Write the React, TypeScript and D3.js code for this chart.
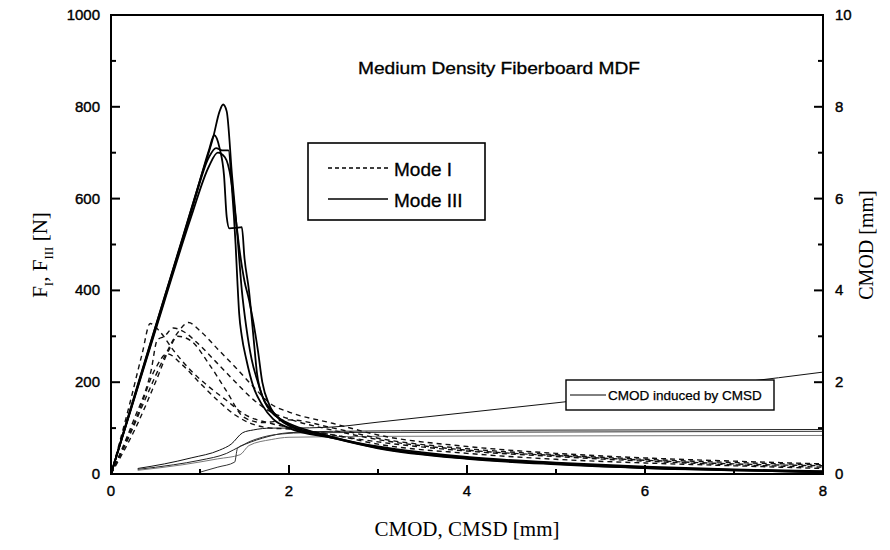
import React from "react";
import * as d3 from "d3";

type P = [number, number];

// Mode III (solid, thick) force curves: [CMSD mm, N]
const modeIII_A: P[] = [[0,0],[0.2,130],[0.4,258],[0.6,385],[0.8,512],[1.0,640],[1.15,735],[1.22,790],[1.26,805],[1.3,790],[1.36,650],[1.42,520],[1.47,400],[1.52,320],[1.58,250],[1.65,200],[1.72,160],[1.8,135],[1.9,120],[2.0,110],[2.3,90],[2.6,75],[3.0,60],[3.5,47],[4.0,37],[5,25],[6,16],[7,10],[8,6]];
const modeIII_B: P[] = [[0,0],[0.2,128],[0.5,320],[0.8,510],[1.0,640],[1.1,705],[1.16,738],[1.22,710],[1.27,650],[1.3,560],[1.33,535],[1.4,536],[1.47,538],[1.5,470],[1.55,400],[1.6,300],[1.64,220],[1.7,170],[1.8,140],[1.9,120],[2.0,108],[2.5,80],[3,58],[4,35],[5,23],[6,14],[7,9],[8,5]];
const modeIII_C: P[] = [[0,0],[0.3,190],[0.6,380],[0.9,570],[1.1,690],[1.18,710],[1.25,705],[1.32,705],[1.36,620],[1.4,500],[1.42,420],[1.44,350],[1.47,300],[1.52,250],[1.6,190],[1.7,150],[1.82,120],[2.0,100],[2.5,78],[3,57],[4,34],[5,22],[6,13],[7,8],[8,4]];
const modeIII_D: P[] = [[0,0],[0.3,188],[0.6,376],[0.9,560],[1.1,670],[1.2,700],[1.28,690],[1.35,640],[1.4,560],[1.45,480],[1.5,420],[1.55,380],[1.6,330],[1.65,270],[1.7,200],[1.78,150],[1.9,118],[2.0,105],[2.5,78],[3,56],[4,33],[5,21],[6,13],[7,8],[8,4]];

// Mode I (dashed) force curves: [CMOD mm, N]
const modeI_A: P[] = [[0,0],[0.2,145],[0.35,262],[0.44,328],[0.55,310],[0.7,270],[0.9,225],[1.1,190],[1.3,160],[1.5,130],[1.8,110],[2.2,95],[3,70],[4,50],[5,38],[6,28],[7,20],[8,15]];
const modeI_B: P[] = [[0,0],[0.2,80],[0.4,170],[0.6,255],[0.75,308],[0.87,330],[1.0,312],[1.2,272],[1.4,232],[1.6,190],[1.8,152],[2.0,135],[2.5,110],[3,85],[4,60],[5,45],[6,35],[7,28],[8,22]];
const modeI_C: P[] = [[0,0],[0.25,115],[0.45,225],[0.52,292],[0.6,300],[0.7,318],[0.8,312],[1.0,280],[1.2,240],[1.4,200],[1.6,162],[1.8,135],[2,120],[2.5,95],[3,75],[4,52],[5,40],[6,30],[7,22],[8,18]];
const modeI_D: P[] = [[0,0],[0.3,130],[0.5,230],[0.63,262],[0.8,238],[1.0,198],[1.2,160],[1.4,128],[1.6,108],[1.8,100],[2.0,98],[2.5,85],[3,65],[4,45],[5,32],[6,24],[7,18],[8,12]];
const modeI_E: P[] = [[0,0],[0.3,110],[0.5,200],[0.65,270],[0.75,300],[0.9,290],[1.1,240],[1.3,180],[1.49,124],[1.7,112],[2.0,118],[2.5,100],[3,78],[4,55],[5,42],[6,32],[7,25],[8,20]];

// CMOD induced by CMSD (thin), right axis: [CMSD mm, CMOD mm]
const cmodA: P[] = [[0.3,0.12],[0.6,0.22],[0.9,0.35],[1.22,0.52],[1.35,0.65],[1.48,0.9],[1.6,0.96],[1.8,1.0],[2.0,1.0],[2.46,1.02],[3,1.13],[4,1.34],[5,1.55],[6,1.77],[7,1.98],[8,2.22]];
const cmodB: P[] = [[0.3,0.1],[0.7,0.2],[1.0,0.3],[1.3,0.45],[1.45,0.6],[1.7,0.78],[2.0,0.9],[2.5,0.93],[4,0.95],[6,0.96],[8,0.97]];
const cmodC: P[] = [[0.3,0.08],[0.8,0.2],[1.2,0.33],[1.45,0.42],[1.55,0.62],[1.8,0.75],[2,0.8],[3,0.82],[5,0.83],[8,0.84]];
const cmodD: P[] = [[1.0,0.04],[1.2,0.15],[1.39,0.26],[1.42,0.55],[1.5,0.65],[1.7,0.8],[1.9,0.87],[2.2,0.9],[4,0.91],[8,0.93]];

const xTicks = [0, 2, 4, 6, 8];
const yLeftTicks = [0, 200, 400, 600, 800, 1000];
const yRightTicks = [0, 2, 4, 6, 8, 10];

const titleText = "Medium Density Fiberboard MDF";
const legendModeI = "Mode I";
const legendModeIII = "Mode III";
const legendCmod = "CMOD induced by CMSD";

export default function App() {
  const W = 890, H = 550;
  const L = 111, R = 823, T = 15, B = 474;
  const x = d3.scaleLinear().domain([0, 8]).range([L, R]);
  const yl = d3.scaleLinear().domain([0, 1000]).range([B, T]);
  const yr = d3.scaleLinear().domain([0, 10]).range([B, T]);
  const lineL = d3.line<P>().x(d => x(d[0])).y(d => yl(d[1])).curve(d3.curveMonotoneX);
  const lineR = d3.line<P>().x(d => x(d[0])).y(d => yr(d[1])).curve(d3.curveMonotoneX);
  const sans = "Liberation Sans, Arial, sans-serif";
  const serif = "Liberation Serif, Times New Roman, serif";

  const xMinor = d3.range(1, 8, 2);
  const ylMinor = d3.range(100, 1000, 200);
  const yrMinor = d3.range(1, 10, 2);

  return (
    <svg width={W} height={H} style={{ position: "absolute", left: 0, top: 0, background: "#fff" }}>
      <rect x={0} y={0} width={W} height={H} fill="#fff" />
      {/* thin CMOD lines */}
      <g fill="none" strokeWidth={1}>
        <path d={lineR(cmodA) || ""} stroke="#111" />
        <path d={lineR(cmodB) || ""} stroke="#222" />
        <path d={lineR(cmodC) || ""} stroke="#777" />
        <path d={lineR(cmodD) || ""} stroke="#333" />
      </g>
      {/* Mode I dashed */}
      <g fill="none" stroke="#111" strokeWidth={1.4} strokeDasharray="5,4">
        {[modeI_A, modeI_B, modeI_C, modeI_D, modeI_E].map((c, i) => (
          <path key={i} d={lineL(c) || ""} />
        ))}
      </g>
      {/* Mode III solid */}
      <g fill="none" stroke="#000" strokeWidth={1.8}>
        {[modeIII_A, modeIII_B, modeIII_C, modeIII_D].map((c, i) => (
          <path key={i} d={lineL(c) || ""} />
        ))}
      </g>
      {/* frame */}
      <rect x={L} y={T} width={R - L} height={B - T} fill="none" stroke="#000" strokeWidth={2} />
      {/* ticks */}
      <g stroke="#000" strokeWidth={2}>
        {xTicks.map(t => <line key={"x" + t} x1={x(t)} x2={x(t)} y1={B} y2={B - 9} />)}
        {xMinor.map(t => <line key={"xm" + t} x1={x(t)} x2={x(t)} y1={B} y2={B - 5} />)}
        {yLeftTicks.map(t => <line key={"yl" + t} x1={L} x2={L + 9} y1={yl(t)} y2={yl(t)} />)}
        {ylMinor.map(t => <line key={"ylm" + t} x1={L} x2={L + 5} y1={yl(t)} y2={yl(t)} />)}
        {yRightTicks.map(t => <line key={"yr" + t} x1={R} x2={R - 9} y1={yr(t)} y2={yr(t)} />)}
        {yrMinor.map(t => <line key={"yrm" + t} x1={R} x2={R - 5} y1={yr(t)} y2={yr(t)} />)}
      </g>
      {/* tick labels */}
      <g fontFamily={sans} fontSize={15} fill="#000" stroke="#000" strokeWidth={0.4}>
        {xTicks.map(t => (
          <text key={"xl" + t} x={x(t)} y={B + 22} textAnchor="middle">{t}</text>
        ))}
        {yLeftTicks.map(t => (
          <text key={"yll" + t} x={L - 11} y={yl(t) + 5} textAnchor="end">{t}</text>
        ))}
        {yRightTicks.map(t => (
          <text key={"yrl" + t} x={R + 12} y={yr(t) + 5} textAnchor="start">{t}</text>
        ))}
      </g>
      {/* axis titles */}
      <text x={467} y={536} textAnchor="middle" fontFamily={serif} fontSize={21}>CMOD, CMSD [mm]</text>
      <text transform="translate(873,245) rotate(-90)" textAnchor="middle" fontFamily={serif} fontSize={20}>CMOD  [mm]</text>
      <text transform="translate(47,255) rotate(-90)" textAnchor="middle" fontFamily={serif} fontSize={21}>
        F<tspan fontSize={13} dy={6}>I</tspan><tspan dy={-6}>, F</tspan><tspan fontSize={13} dy={6}>III</tspan><tspan dy={-6}>  [N]</tspan>
      </text>
      {/* title */}
      <text x={499} y={74} textAnchor="middle" fontFamily={sans} fontSize={16} textLength={282} lengthAdjust="spacingAndGlyphs" stroke="#000" strokeWidth={0.3}>{titleText}</text>
      {/* legend 1 */}
      <rect x={308} y={143} width={177} height={77} fill="#fff" stroke="#000" strokeWidth={1.6} />
      <line x1={328} x2={388} y1={168} y2={168} stroke="#000" strokeWidth={1.3} strokeDasharray="4,3" />
      <line x1={328} x2={388} y1={199} y2={199} stroke="#000" strokeWidth={1.3} />
      <g fontFamily={sans} fontSize={19} stroke="#000" strokeWidth={0.3}>
        <text x={394} y={176}>{legendModeI}</text>
        <text x={394} y={207}>{legendModeIII}</text>
      </g>
      {/* legend 2 */}
      <rect x={566} y={380} width={208} height={30} fill="#fff" stroke="#000" strokeWidth={1.4} />
      <line x1={570} x2={606} y1={395} y2={395} stroke="#000" strokeWidth={1} />
      <text x={608} y={400} fontFamily={sans} fontSize={13.5} stroke="#000" strokeWidth={0.25}>{legendCmod}</text>
    </svg>
  );
}
